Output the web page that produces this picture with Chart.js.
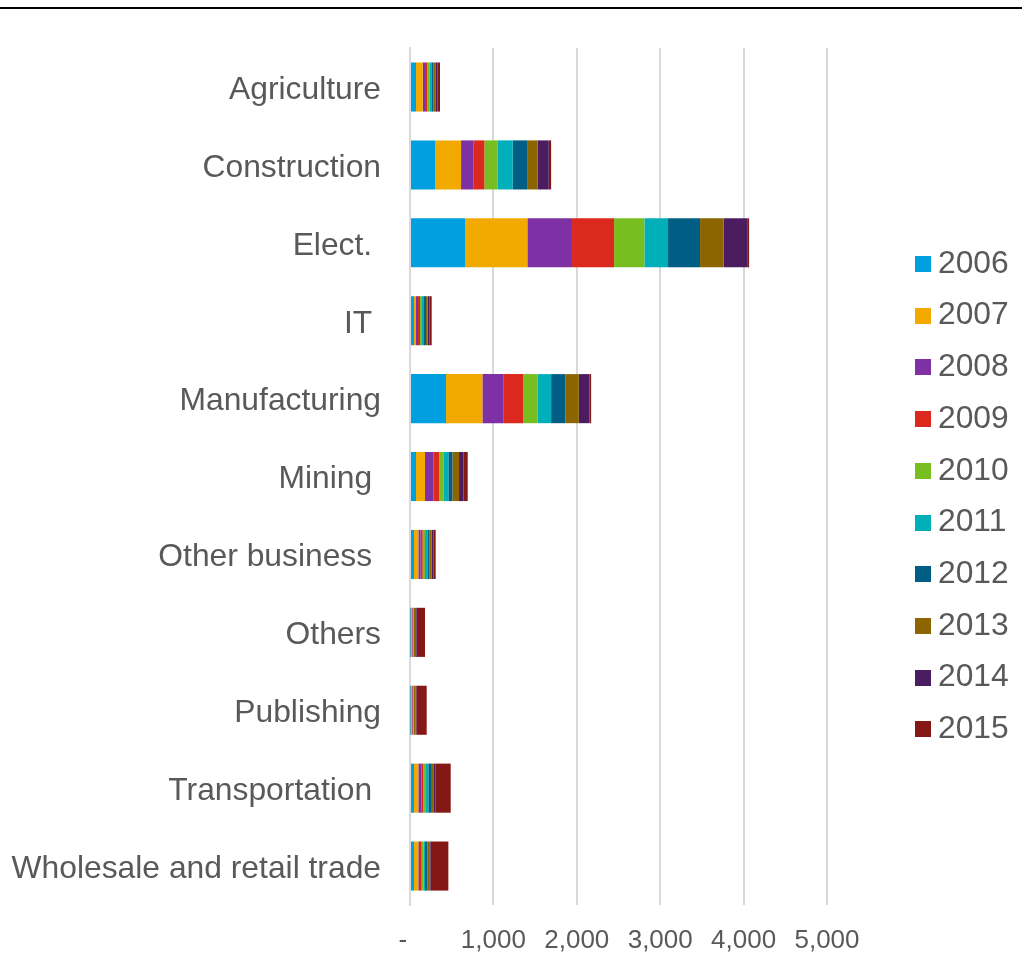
<!DOCTYPE html>
<html>
<head>
<meta charset="utf-8">
<script src="https://cdn.jsdelivr.net/npm/chart.js@4.4.1/dist/chart.umd.min.js"></script>
<style>
  html, body { margin: 0; padding: 0; background: #ffffff; }
  #wrap { position: relative; width: 1022px; height: 964px; overflow: hidden; }
  #rule { position: absolute; left: 0; top: 7px; width: 1022px; height: 2px; background: #000000; }
  #c { position: absolute; left: 0; top: 0; }
</style>
</head>
<body>
<div id="wrap">
  <div id="rule"></div>
  <canvas id="c" width="1022" height="964"></canvas>
</div>
<script>
// Sectors (trailing spaces kept as in the source labels)
const categories = [
  'Agriculture', 'Construction', 'Elect. ', 'IT ', 'Manufacturing', 'Mining ',
  'Other business ', 'Others', 'Publishing', 'Transportation ', 'Wholesale and retail trade'
];
const years = ['2006', '2007', '2008', '2009', '2010', '2011', '2012', '2013', '2014', '2015'];

// Values per year, one entry per sector (same order as categories)
const v2006 = [72, 300, 660, 48, 432, 72, 48, 4, 4, 48, 48];
const v2007 = [80, 312, 747, 24, 436, 108, 52, 20, 20, 52, 52];
const v2008 = [28, 152, 536, 24, 256, 100, 28, 4, 4, 40, 20];
const v2009 = [28, 128, 504, 24, 232, 72, 24, 8, 8, 20, 20];
const v2010 = [24, 156, 363, 24, 176, 48, 28, 4, 4, 32, 20];
const v2011 = [24, 184, 284, 24, 160, 60, 28, 4, 4, 28, 20];
const v2012 = [24, 172, 384, 24, 172, 48, 24, 4, 4, 32, 28];
const v2013 = [24, 128, 284, 20, 160, 80, 28, 24, 20, 28, 24];
const v2014 = [24, 132, 288, 20, 128, 52, 20, 8, 8, 28, 16];
const v2015 = [32, 28, 16, 28, 20, 52, 28, 100, 124, 180, 212];

const xTicks = [0, 1000, 2000, 3000, 4000, 5000];

const seriesValues = [v2006, v2007, v2008, v2009, v2010, v2011, v2012, v2013, v2014, v2015];
const palette = ['#009FDF', '#F3AA00', '#7E31A5', '#DC291E', '#78BE21', '#00AFB9',
                 '#005D83', '#8C6500', '#4B1D60', '#841814'];

const textGrey = '#595959';
const fontFamily = '"Liberation Sans", Arial, Helvetica, sans-serif';

// Legend drawn down the right-hand side, one row per year
const sideLegend = {
  id: 'sideLegend',
  afterDraw(chart, args, opts) {
    const ctx = chart.ctx;
    ctx.save();
    ctx.font = opts.font;
    ctx.textBaseline = 'middle';
    ctx.textAlign = 'left';
    chart.data.datasets.forEach((ds, i) => {
      const y = opts.top + i * opts.step;
      ctx.fillStyle = ds.backgroundColor;
      ctx.fillRect(opts.boxX, Math.round(y - opts.box / 2), opts.box, opts.box);
      ctx.fillStyle = opts.color;
      ctx.fillText(ds.label, opts.textX, y);
    });
    ctx.restore();
  }
};

new Chart(document.getElementById('c'), {
  type: 'bar',
  data: {
    labels: categories,
    datasets: years.map((yr, i) => ({
      label: yr,
      data: seriesValues[i],
      backgroundColor: palette[i],
      borderWidth: 0,
      categoryPercentage: 1,
      barPercentage: 0.63
    }))
  },
  options: {
    indexAxis: 'y',
    responsive: false,
    animation: false,
    devicePixelRatio: 1,
    layout: { padding: { top: 47, right: 195, bottom: 0, left: 0 } },
    plugins: {
      legend: { display: false },
      tooltip: { enabled: false },
      sideLegend: {
        top: 264, step: 51.7, box: 16, boxX: 915, textX: 938,
        font: '31.8px ' + fontFamily, color: textGrey
      }
    },
    scales: {
      x: {
        stacked: true,
        min: 0,
        max: 5000,
        afterBuildTicks(scale) { scale.ticks = xTicks.map(v => ({ value: v })); },
        afterFit(scale) { scale.height = 59; },
        grid: { color: '#d9d9d9', lineWidth: 2, drawTicks: false },
        border: { display: false },
        ticks: {
          padding: 20,
          color: textGrey,
          font: { family: fontFamily, size: 26 },
          callback(v) { return v === 0 ? '-  ' : v.toLocaleString('en-US'); }
        }
      },
      y: {
        stacked: true,
        afterFit(scale) { scale.width = 410; },
        grid: { display: false, drawTicks: false },
        border: { display: true, color: '#d9d9d9', width: 2 },
        ticks: {
          padding: 29,
          labelOffset: 3,
          color: textGrey,
          font: { family: fontFamily, size: 31.8 }
        }
      }
    }
  },
  plugins: [sideLegend]
});
</script>
</body>
</html>
